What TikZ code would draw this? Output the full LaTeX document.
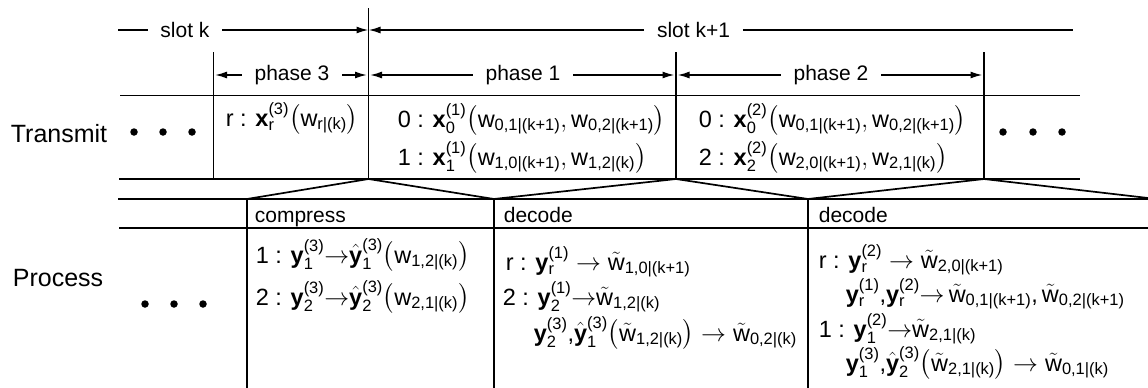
\documentclass[tikz,border=0pt]{standalone}
\usepackage{amsmath}
\usepackage{fontspec}
\setmainfont{Liberation Sans}
\usetikzlibrary{arrows.meta}
\newcommand{\vxs}[2]{\textbf{x}_{\text{#1}}^{\text{(#2)}}}
\newcommand{\vys}[2]{\textbf{y}_{\text{#1}}^{\text{(#2)}}}
\newcommand{\hys}[2]{\hat{\textbf{y}}_{\text{#1}}^{\text{(#2)}}}
\newcommand{\ww}[1]{\text{w}_{\text{#1}}}
\newcommand{\tww}[1]{\tilde{\text{w}}_{\text{#1}}}
\begin{document}
\begin{tikzpicture}[x=1pt,y=-1pt,line width=1.7pt,
  lab/.style={font=\fontsize{21}{25}\selectfont, inner xsep=12pt, inner ysep=0pt},
  side/.style={font=\fontsize{25}{30}\selectfont, anchor=base west, inner sep=0pt},
  head/.style={font=\fontsize{21}{25}\selectfont, anchor=base west, inner sep=0pt},
  cell/.style={font=\fontsize{23.5}{28}\selectfont, anchor=base west, inner sep=0pt},
  dim/.style={-{Latex[length=12pt,width=7pt]}},
  dot/.style={circle, fill=black, inner sep=0pt, minimum size=7.5pt}]
\useasboundingbox (0,0) rectangle (1148,388);
% table lines
\draw (368.5,8) -- (368.5,179);
\draw (213.5,52) -- (213.5,179);
\draw (676,52) -- (676,179);
\draw (984,52) -- (984,179);
\draw (120,95.5) -- (1080,95.5);
\draw (119,179) -- (1080,179);
\draw (118,199) -- (1148,199);
\draw (119,228) -- (1148,228);
\draw (247,199) -- (247,388);
\draw (494,199) -- (494,388);
\draw (808,199) -- (808,388);
\draw (247,199) -- (368.5,179) -- (494,199);
\draw (494,199) -- (676,179) -- (808,199);
\draw (808,199) -- (984,179) -- (1148,198);
% slots and phases
\node[lab] (slotk) at (185,30) {slot k};
\node[lab] (slotk1) at (693.5,30) {slot k+1};
\node[lab] (ph3) at (292,75) {phase 3};
\node[lab] (ph1) at (523,75) {phase 1};
\node[lab] (ph2) at (831,75) {phase 2};
\coordinate (sk0) at (118,30);
\coordinate (sk1) at (368.5,30);
\coordinate (sk2) at (1073,30);
\coordinate (p3l) at (215,75);
\coordinate (p3r) at (367,75);
\coordinate (p1l) at (370,75);
\coordinate (p1r) at (674.5,75);
\coordinate (p2l) at (677.5,75);
\coordinate (p2r) at (982.5,75);
\draw (slotk) -- (sk0);
\draw[dim] (slotk) -- (sk1);
\draw[dim] (slotk1) -- (sk1);
\draw (slotk1) -- (sk2);
\draw[dim] (ph3) -- (p3l);
\draw[dim] (ph3) -- (p3r);
\draw[dim] (ph1) -- (p1l);
\draw[dim] (ph1) -- (p1r);
\draw[dim] (ph2) -- (p2l);
\draw[dim] (ph2) -- (p2r);
% row labels and dots
\node[side] (tr) at (10,142) {Transmit};
\node[side] (pr) at (12,286) {Process};
\node[dot] (dt1) at (134,132) {};
\node[dot] (dt2) at (163,132) {};
\node[dot] (dt3) at (192,132) {};
\node[dot] (dr1) at (1003,132) {};
\node[dot] (dr2) at (1033,132) {};
\node[dot] (dr3) at (1062,132) {};
\node[dot] (dp1) at (145,304) {};
\node[dot] (dp2) at (174,304) {};
\node[dot] (dp3) at (203,304) {};
% transmit cells
\node[cell] (c3) at (225,126) {$\text{r : }\vxs{r}{3}\bigl(\ww{r|(k)}\bigr)$};
\node[cell] (c1a) at (397,127) {$\text{0 : }\vxs{0}{1}\bigl(\ww{0,1|(k+1)},\ww{0,2|(k+1)}\bigr)$};
\node[cell] (c1b) at (397,165) {$\text{1 : }\vxs{1}{1}\bigl(\ww{1,0|(k+1)},\ww{1,2|(k)}\bigr)$};
\node[cell] (c2a) at (698,127) {$\text{0 : }\vxs{0}{2}\bigl(\ww{0,1|(k+1)},\ww{0,2|(k+1)}\bigr)$};
\node[cell] (c2b) at (698,165) {$\text{2 : }\vxs{2}{2}\bigl(\ww{2,0|(k+1)},\ww{2,1|(k)}\bigr)$};
% process cells
\node[head] (hc) at (254,222) {compress};
\node[head] (hd1) at (503,222) {decode};
\node[head] (hd2) at (818,222) {decode};
\node[cell] (p3a) at (255,263) {$\text{1 : }\vys{1}{3}{\rightarrow}\hys{1}{3}\bigl(\ww{1,2|(k)}\bigr)$};
\node[cell] (p3b) at (255,305) {$\text{2 : }\vys{2}{3}{\rightarrow}\hys{2}{3}\bigl(\ww{2,1|(k)}\bigr)$};
\node[cell] (d1a) at (505,270) {$\text{r : }\vys{r}{1}\rightarrow\tww{1,0|(k+1)}$};
\node[cell] (d1b) at (502,305) {$\text{2 : }\vys{2}{1}{\rightarrow}\tww{1,2|(k)}$};
\node[cell] (d1c) at (533,341) {$\vys{2}{3}\text{,}\hys{1}{3}\bigl(\tww{1,2|(k)}\bigr)\rightarrow\tww{0,2|(k)}$};
\node[cell] (d2a) at (818,268) {$\text{r : }\vys{r}{2}\rightarrow\tww{2,0|(k+1)}$};
\node[cell] (d2b) at (845,302) {$\vys{r}{1}\text{,}\vys{r}{2}{\rightarrow}\,\tww{0,1|(k+1)}\text{,}\,\tww{0,2|(k+1)}$};
\node[cell] (d2c) at (818,337) {$\text{1 : }\vys{1}{2}{\rightarrow}\tww{2,1|(k)}$};
\node[cell] (d2d) at (845,371) {$\vys{1}{3}\text{,}\hys{2}{3}\bigl(\tww{2,1|(k)}\bigr)\rightarrow\tww{0,1|(k)}$};
\end{tikzpicture}
\end{document}
